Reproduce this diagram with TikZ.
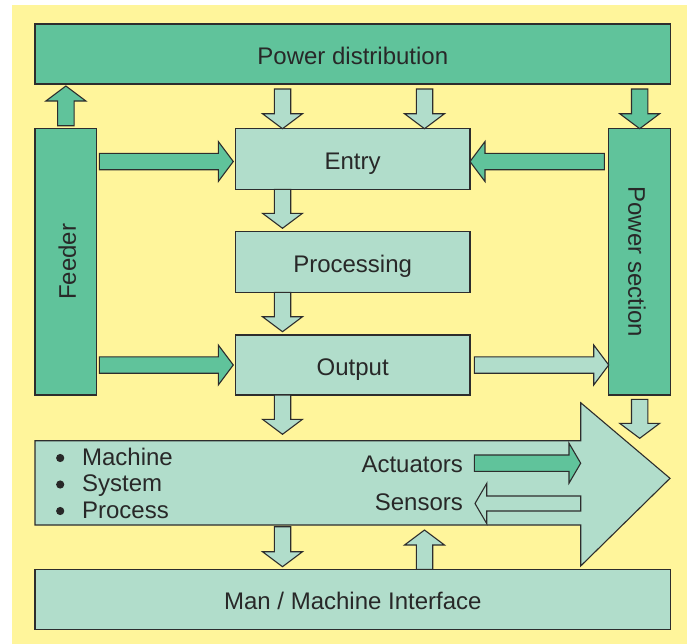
\documentclass[tikz,border=0pt]{standalone}
\usepackage{fontspec}
\setmainfont{Liberation Sans}
\usetikzlibrary{calc}

\definecolor{bgyellow}{RGB}{255,245,155}
\definecolor{darkgreen}{RGB}{96,195,155}
\definecolor{lightgreen}{RGB}{177,221,203}
\definecolor{edge}{RGB}{45,45,45}
\definecolor{ink}{RGB}{40,40,40}

% block arrow geometry (half shaft width, half head width, head length)
\def\shafthw{4.1pt}
\def\headhw{10pt}
\def\headlen{7.5pt}

% vertical block arrow: #1 style, #2 start, #3 tip
\newcommand\vblockarrow[3]{%
  \path[blockarrow,#1] let \p1=(#2), \p2=(#3), \p3=($(\p2)!\headlen!(\p1)$) in
    ({\x1-\shafthw},\y1) -- ({\x1-\shafthw},\y3)
    -- ({\x1-\headhw},\y3) -- (\x1,\y2)
    -- ({\x1+\headhw},\y3) -- ({\x1+\shafthw},\y3)
    -- ({\x1+\shafthw},\y1) -- cycle;}
% horizontal block arrow: #1 style, #2 start, #3 tip
\newcommand\hblockarrow[3]{%
  \path[blockarrow,#1] let \p1=(#2), \p2=(#3), \p3=($(\p2)!\headlen!(\p1)$) in
    (\x1,{\y1-\shafthw}) -- (\x3,{\y1-\shafthw})
    -- (\x3,{\y1-\headhw}) -- (\x2,\y1)
    -- (\x3,{\y1+\headhw}) -- (\x3,{\y1+\shafthw})
    -- (\x1,{\y1+\shafthw}) -- cycle;}

\tikzset{
  box/.style={draw=edge, line width=0.6pt, fill=#1, inner sep=0pt, outer sep=0pt,
    text=ink, font=\fontsize{12}{14}\selectfont, text height=10pt, text depth=0pt},
  label/.style={text=ink, font=\fontsize{12}{14}\selectfont, inner sep=0pt},
  sidelabel/.style={label, text height=8.6pt, text depth=0pt},
  bullet/.style={circle, fill=ink, inner sep=0pt, minimum size=4.1pt},
  blockarrow/.style={draw=edge, line width=0.55pt, line join=miter},
  dark/.style={fill=darkgreen},
  light/.style={fill=lightgreen},
}

\begin{document}
\begin{tikzpicture}[x=0.5pt, y=-0.5pt]
  % page and background
  \useasboundingbox (0,0) rectangle (687,644);
  \fill[white] (0,0) rectangle (687,644);
  \fill[bgyellow] (12,5) rectangle (687,644);

  % arrow columns
  \coordinate (colL) at (282.5,0);
  \coordinate (colR) at (424.5,0);

  % boxes
  \node[box=darkgreen, minimum width=317.85pt, minimum height=30pt] (pd) at (352.85,54) {Power distribution};
  \node[box=darkgreen, minimum width=30.85pt, minimum height=133.15pt] (feeder) at (65.85,261.85) {};
  \node[sidelabel, rotate=90] (feedertext) at ($(feeder.center)+(1.5,0)$) {Feeder};
  \node[box=darkgreen, minimum width=31pt, minimum height=133.15pt] (psec) at (639.7,261.85) {};
  \node[sidelabel, rotate=-90] (psectext) at ($(psec.center)+(-2.7,0)$) {Power section};
  \node[box=lightgreen, minimum width=117.35pt, minimum height=30.3pt] (entry) at (352.65,159) {Entry};
  \node[box=lightgreen, minimum width=117.35pt, minimum height=30.3pt] (proc) at (352.65,262) {Processing};
  \node[box=lightgreen, minimum width=117.35pt, minimum height=30pt] (out) at (352.65,365) {Output};
  \node[box=lightgreen, minimum width=317.85pt, minimum height=30pt] (mmi) at (352.85,599.3) {Man / Machine Interface};

  % machine / system / process band with its large arrow head
  \node[inner sep=0pt, outer sep=0pt, minimum width=272.85pt, minimum height=42.15pt] (band) at (307.85,482.85) {};
  \coordinate (tip) at (670,478.3);
  \path[blockarrow, light] (band.north west) -- (band.north east) -- ++(0,-38)
    -- (tip) -- ($(band.south east)+(0,41)$) -- (band.south east)
    -- (band.south west) -- cycle;

  \node[label, anchor=base west] (machine) at (81.7,465) {Machine};
  \node[label, anchor=base west] (system) at (81.7,491.5) {System};
  \node[label, anchor=base west] (process) at (81.7,518) {Process};
  \node[bullet] (b1) at ($(machine.base west)+(-21.5,-7)$) {};
  \node[bullet] (b2) at ($(system.base west)+(-21.5,-7)$) {};
  \node[bullet] (b3) at ($(process.base west)+(-21.5,-7)$) {};
  \node[label, anchor=base east] (act) at (463.3,472.7) {Actuators};
  \node[label, anchor=base east] (sens) at (463.3,510.5) {Sensors};

  % power distribution links
  \vblockarrow{dark}{$(feeder.north)+(0,-3)$}{$(pd.south -| feeder.north)+(0,2)$}
  \vblockarrow{light}{$(pd.south -| colL)+(0,5)$}{entry.north -| colL}
  \vblockarrow{light}{$(pd.south -| colR)+(0,5)$}{entry.north -| colR}
  \vblockarrow{dark}{$(pd.south -| psec.north)+(0,5)$}{psec.north}

  % entry / processing / output chain
  \hblockarrow{dark}{$(feeder.east |- entry.west)+(2.6,2.5)$}{$(entry.west)+(-2,2.5)$}
  \hblockarrow{dark}{$(psec.west |- entry.east)+(-4.4,2.5)$}{$(entry.east)+(0,2.5)$}
  \vblockarrow{light}{entry.south -| colL}{$(proc.north -| colL)+(0,-3.4)$}
  \vblockarrow{light}{proc.south -| colL}{$(out.north -| colL)+(0,-3.3)$}
  \hblockarrow{dark}{$(feeder.east |- out.west)+(2.6,0)$}{$(out.west)+(-2,0)$}
  \hblockarrow{light}{$(out.east)+(4.3,0)$}{psec.west |- out.east}
  \vblockarrow{light}{out.south -| colL}{$(band.north -| colL)+(0,-6.4)$}
  \vblockarrow{light}{$(psec.south)+(0,4.3)$}{$(psec.south)+(0,43.3)$}

  % band to interface
  \vblockarrow{light}{$(band.south -| colL)+(0,1.7)$}{$(mmi.north -| colL)+(0,-2.6)$}
  \vblockarrow{light}{mmi.north -| colR}{$(band.south -| colR)+(0,5)$}

  % actuators and sensors
  \coordinate (actstart) at (474.3,463.2);
  \coordinate (sensend) at (475,503.5);
  \begingroup
  \def\headlen{5.85pt}
  \hblockarrow{dark}{actstart}{band.east |- actstart}
  \def\shafthw{3.75pt}
  \hblockarrow{light}{band.east |- sensend}{sensend}
  \endgroup
\end{tikzpicture}
\end{document}
